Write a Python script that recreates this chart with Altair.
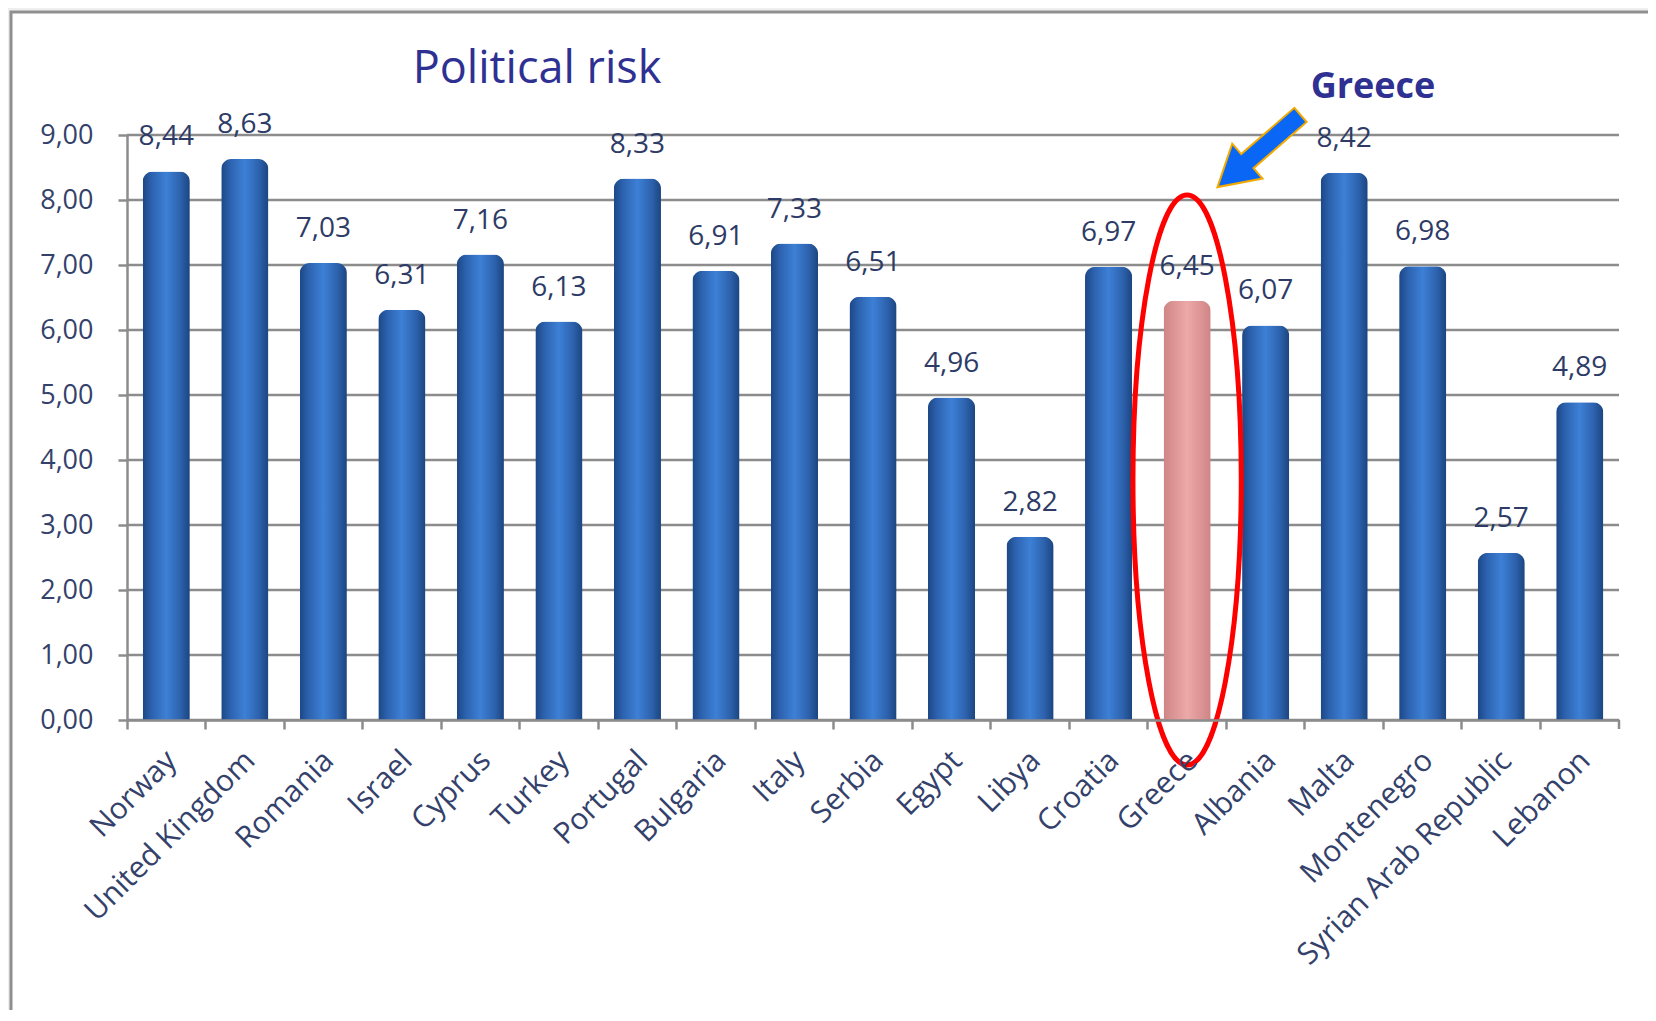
import altair as alt
import pandas as pd

countries = ["Norway", "United Kingdom", "Romania", "Israel", "Cyprus", "Turkey",
             "Portugal", "Bulgaria", "Italy", "Serbia", "Egypt", "Libya", "Croatia",
             "Greece", "Albania", "Malta", "Montenegro", "Syrian Arab Republic", "Lebanon"]
values = [8.44, 8.63, 7.03, 6.31, 7.16, 6.13, 8.33, 6.91, 7.33, 6.51, 4.96, 2.82,
          6.97, 6.45, 6.07, 8.42, 6.98, 2.57, 4.89]
grid_values = [0, 1, 2, 3, 4, 5, 6, 7, 8, 9]
highlight = "Greece"
title_text = "Political risk"
annotation_text = "Greece"

df = pd.DataFrame({"country": countries, "value": values})
df["label"] = [f"{v:.2f}".replace(".", ",") for v in values]
grid_df = pd.DataFrame({"value": grid_values})

W, H = 1492, 585
FONT = "Open Sans"
TXT = "#33416b"
GRID = "#8c8c8c"

x_axis = alt.Axis(
    title=None, bandPosition=0, labelAngle=-45, labelAlign="right", labelBaseline="top",
    labelOffset=-5, labelPadding=16, labelLimit=0, labelFont=FONT, labelFontSize=30,
    labelColor=TXT, labelOverlap=False,
    domainColor=GRID, domainWidth=2.5, tickColor=GRID, tickWidth=2.5, tickSize=9,
    grid=False, zindex=1,
)
y_axis = alt.Axis(
    title=None, values=grid_values,
    labelExpr="replace(format(datum.value, '.2f'), '.', ',')",
    labelFont=FONT, labelFontSize=27, labelColor=TXT, labelPadding=25,
    domainColor=GRID, domainWidth=2.5, tickColor=GRID, tickWidth=2.5, tickSize=9,
    grid=False, zindex=1,
)

x_scale = alt.Scale(paddingInner=0, paddingOuter=0)
y_scale = alt.Scale(domain=[0, 9], nice=False, zero=True)
x_enc = alt.X("country:N", sort=countries, scale=x_scale, axis=x_axis)
y_enc = alt.Y("value:Q", scale=y_scale, axis=y_axis)

blue_grad = alt.LinearGradient(
    gradient="linear", x1=0, x2=1, y1=0, y2=0,
    stops=[alt.GradientStop(offset=0, color="#1c4785"),
           alt.GradientStop(offset=0.2, color="#2d63b0"),
           alt.GradientStop(offset=0.5, color="#3d80d6"),
           alt.GradientStop(offset=0.8, color="#2d62ad"),
           alt.GradientStop(offset=1, color="#1b4580")])
pink_grad = alt.LinearGradient(
    gradient="linear", x1=0, x2=1, y1=0, y2=0,
    stops=[alt.GradientStop(offset=0, color="#cf8585"),
           alt.GradientStop(offset=0.5, color="#eda8a8"),
           alt.GradientStop(offset=1, color="#cf8585")])

base = alt.Chart(df)

frame = alt.Chart(alt.Data(values=[{"a": 1}])).mark_rect(
    fill="white", stroke="#8f8f8f", strokeWidth=3
).encode(x=alt.value(-116), x2=alt.value(1580), y=alt.value(-123), y2=alt.value(980))

grid = alt.Chart(grid_df).mark_rule(color=GRID, strokeWidth=2.5).encode(y=y_enc)

end_tick = alt.Chart(alt.Data(values=[{"a": 1}])).mark_rule(
    color=GRID, strokeWidth=2.5
).encode(x=alt.value(W), y=alt.value(H), y2=alt.value(H + 9))

bars_blue = base.transform_filter(alt.datum.country != highlight).mark_bar(
    width={"band": 0.6}, color=blue_grad, cornerRadiusTopLeft=10, cornerRadiusTopRight=10
).encode(x=x_enc, y=y_enc)

bars_pink = base.transform_filter(alt.datum.country == highlight).mark_bar(
    width={"band": 0.6}, color=pink_grad, cornerRadiusTopLeft=10, cornerRadiusTopRight=10
).encode(x=x_enc, y=y_enc)

labels = base.mark_text(
    font=FONT, fontSize=28, color="#2d3b66", baseline="middle", align="center", dy=-34
).encode(x=x_enc, y=y_enc, text="label:N")

k = 0.552
a = 0.19
ellipse_path = (f"M0,-1 C{k*a:.4f},-1 {a},{-k} {a},0 C{a},{k} {k*a:.4f},1 0,1 "
                f"C{-k*a:.4f},1 {-a},{k} {-a},0 C{-a},{-k} {-k*a:.4f},-1 0,-1 Z")
ellipse = base.transform_filter(alt.datum.country == highlight).mark_point(
    shape=ellipse_path, filled=False, stroke="#ff0000", strokeWidth=5,
    size=570 * 570, opacity=1
).encode(x=x_enc, y=alt.value(345))

arrow_path = "M0,-1 L0.42,-0.28 L0.17,-0.28 L0.17,1 L-0.17,1 L-0.17,-0.28 L-0.42,-0.28 Z"
arrow = alt.Chart(alt.Data(values=[{"a": 1}])).mark_point(
    shape=arrow_path, filled=True, fill="#0a66f5", stroke="#f2a900", strokeWidth=2,
    size=110 * 110, angle=229, opacity=1
).encode(x=alt.value(1132), y=alt.value(16))

title = alt.Chart(alt.Data(values=[{"t": title_text}])).mark_text(
    font=FONT, fontSize=45, color="#2e3192", align="center", baseline="alphabetic"
).encode(x=alt.value(410), y=alt.value(-52), text="t:N")

note = alt.Chart(alt.Data(values=[{"t": annotation_text}])).mark_text(
    font=FONT, fontSize=36, fontWeight="bold", color="#2e3192", align="center",
    baseline="alphabetic"
).encode(x=alt.value(1246), y=alt.value(-37), text="t:N")

chart = alt.layer(
    frame, grid, end_tick, bars_blue, bars_pink, labels, ellipse, arrow, title, note
).properties(
    width=W, height=H,
    autosize=alt.AutoSizeParams(type="none"),
    padding={"left": 119, "top": 127, "right": 29, "bottom": 290},
).configure(background="#efefef").configure_view(stroke=None)

chart.save("out.html", embed_options={"renderer": "svg", "actions": False})
